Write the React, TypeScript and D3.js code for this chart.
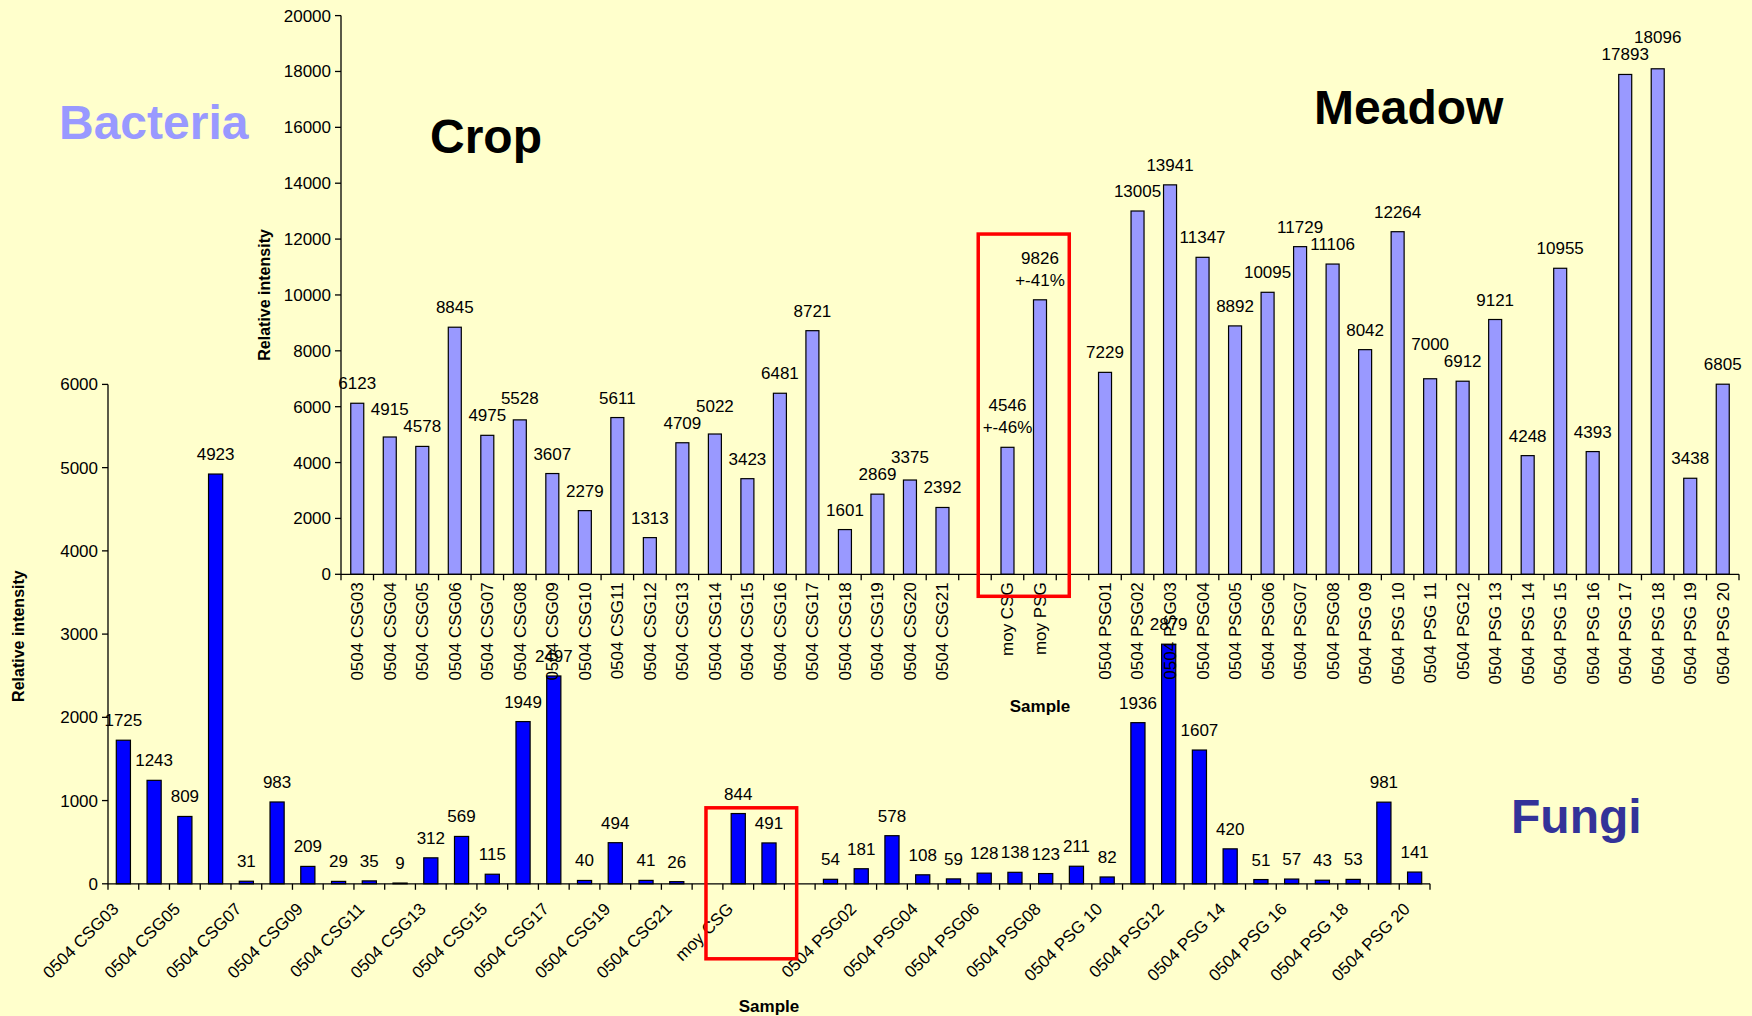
import React from 'react';
import * as d3 from 'd3';

const categories: string[] = [
  '0504 CSG03', '0504 CSG04', '0504 CSG05', '0504 CSG06', '0504 CSG07', '0504 CSG08', '0504 CSG09',
  '0504 CSG10', '0504 CSG11', '0504 CSG12', '0504 CSG13', '0504 CSG14', '0504 CSG15', '0504 CSG16',
  '0504 CSG17', '0504 CSG18', '0504 CSG19', '0504 CSG20', '0504 CSG21', '',
  'moy CSG', 'moy PSG', '',
  '0504 PSG01', '0504 PSG02', '0504 PSG03', '0504 PSG04', '0504 PSG05', '0504 PSG06', '0504 PSG07',
  '0504 PSG08', '0504 PSG 09', '0504 PSG 10', '0504 PSG 11', '0504 PSG12', '0504 PSG 13', '0504 PSG 14',
  '0504 PSG 15', '0504 PSG 16', '0504 PSG 17', '0504 PSG 18', '0504 PSG 19', '0504 PSG 20',
];

const bacteriaValues: (number | null)[] = [
  6123, 4915, 4578, 8845, 4975, 5528, 3607, 2279, 5611, 1313, 4709, 5022, 3423, 6481, 8721, 1601, 2869, 3375, 2392, null,
  4546, 9826, null,
  7229, 13005, 13941, 11347, 8892, 10095, 11729, 11106, 8042, 12264, 7000, 6912, 9121, 4248, 10955, 4393, 17893, 18096, 3438, 6805,
];

const bacteriaSpread: (string | null)[] = categories.map((c) =>
  c === 'moy CSG' ? '+-46%' : c === 'moy PSG' ? '+-41%' : null
);

const fungiValues: (number | null)[] = [
  1725, 1243, 809, 4923, 31, 983, 209, 29, 35, 9, 312, 569, 115, 1949, 2497, 40, 494, 41, 26, null,
  844, 491, null,
  54, 181, 578, 108, 59, 128, 138, 123, 211, 82, 1936, 2879, 1607, 420, 51, 57, 43, 53, 981, 141,
];

const bacteriaTicks = [0, 2000, 4000, 6000, 8000, 10000, 12000, 14000, 16000, 18000, 20000];
const fungiTicks = [0, 1000, 2000, 3000, 4000, 5000, 6000];

const W = 1752;
const H = 1016;
const FONT = "'Liberation Sans', Arial, Helvetica, sans-serif";
const FS = 17;

// Baseline y of each value label: just above its bar; when two neighbouring labels
// would collide, the one on the taller bar is lifted one line higher.
function labelYs(values: (number | null)[], y: (v: number) => number, step: number, multi: (string | null)[] | null) {
  const ys: (number | null)[] = values.map((v) => (v == null ? null : y(v) - 14));
  for (let i = 1; i < values.length; i++) {
    const a = values[i - 1];
    const b = values[i];
    if (a == null || b == null) continue;
    if (multi && (multi[i] || multi[i - 1])) continue;
    const wa = String(a).length * 0.556 * FS - 2;
    const wb = String(b).length * 0.556 * FS - 2;
    const hOverlap = (wa + wb) / 2 - step;
    if (hOverlap <= 2) continue;
    const ya = ys[i - 1] as number;
    const yb = ys[i] as number;
    if (Math.abs(ya - yb) >= FS) continue;
    if (b >= a) ys[i] = Math.min(yb, ya - FS);
    else ys[i - 1] = Math.min(ya, yb - FS);
  }
  return ys;
}

export default function App() {
  const idx = categories.map((_, i) => i);
  const n = categories.length;

  // ---------- Bacteria (top) ----------
  const bPad = 0.6;
  const bx = d3.scaleBand<number>().domain(idx).range([341, 1739]).paddingInner(bPad).paddingOuter(bPad / 2);
  const bStep = bx.step();
  const bStart = (i: number) => (bx(i) as number) - (bStep * bPad) / 2;
  const bCenter = (i: number) => (bx(i) as number) + bx.bandwidth() / 2;
  const by = d3.scaleLinear().domain([0, 20000]).range([574.3, 15.6]);
  const bLabelY = labelYs(bacteriaValues, by, bStep, bacteriaSpread);

  // ---------- Fungi (bottom) ----------
  const fPad = 0.54;
  const fx = d3.scaleBand<number>().domain(idx).range([108, 1430]).paddingInner(fPad).paddingOuter(fPad / 2);
  const fStep = fx.step();
  const fStart = (i: number) => (fx(i) as number) - (fStep * fPad) / 2;
  const fCenter = (i: number) => (fx(i) as number) + fx.bandwidth() / 2;
  const fy = d3.scaleLinear().domain([0, 6000]).range([883.8, 384.4]);
  const fLabelY = labelYs(fungiValues, fy, fStep, null);

  const iCSG = categories.indexOf('moy CSG');
  const iPSG = categories.indexOf('moy PSG');

  return (
    <svg
      width={W}
      height={H}
      viewBox={`0 0 ${W} ${H}`}
      style={{ position: 'absolute', left: 0, top: 0, display: 'block' }}
      fontFamily={FONT}
    >
      <rect x={0} y={0} width={W} height={H} fill="#FFFFCC" />

      {/* ================= FUNGI ================= */}
      <g>
        {fungiValues.map((v, i) =>
          v == null ? null : (
            <rect
              key={'fb' + i}
              x={fx(i)}
              y={fy(v)}
              width={fx.bandwidth()}
              height={fy(0) - fy(v)}
              fill="#0000FF"
              stroke="#000"
              strokeWidth={1.2}
            />
          )
        )}
        <line x1={fx.range()[0]} x2={fx.range()[0]} y1={fy(0)} y2={fy(6000)} stroke="#000" strokeWidth={1.3} />
        {fungiTicks.map((t) => (
          <g key={'fyt' + t}>
            <line x1={fx.range()[0] - 6} x2={fx.range()[0]} y1={fy(t)} y2={fy(t)} stroke="#000" strokeWidth={1.3} />
            <text x={fx.range()[0] - 10} y={fy(t)} dy="0.35em" textAnchor="end" fontSize={FS} fill="#000">
              {t}
            </text>
          </g>
        ))}
        <line x1={fx.range()[0]} x2={fx.range()[1]} y1={fy(0)} y2={fy(0)} stroke="#000" strokeWidth={1.3} />
        {d3.range(n + 1).map((k) => {
          const x = k < n ? fStart(k) : fStart(n - 1) + fStep;
          return <line key={'fxt' + k} x1={x} x2={x} y1={fy(0)} y2={fy(0) + 6} stroke="#000" strokeWidth={1.3} />;
        })}
        {categories.map((c, i) =>
          i % 2 === 0 && c ? (
            <text
              key={'fxl' + i}
              transform={`translate(${fCenter(i) - 8},${fy(0) + 22}) rotate(-45)`}
              dy="0.35em"
              textAnchor="end"
              fontSize={FS}
              fill="#000"
            >
              {c}
            </text>
          ) : null
        )}
        {fungiValues.map((v, i) =>
          v == null ? null : (
            <text key={'fvl' + i} x={fCenter(i)} y={fLabelY[i] as number} textAnchor="middle" fontSize={FS} fill="#000">
              {v}
            </text>
          )
        )}
        <text
          transform={`translate(18,${(fy(0) + fy(6000)) / 2 + 2}) rotate(-90)`}
          dy="0.35em"
          textAnchor="middle"
          fontSize={16}
          fontWeight="bold"
          fill="#000"
        >
          Relative intensity
        </text>
        <text x={769} y={1006} dy="0.35em" textAnchor="middle" fontSize={FS} fontWeight="bold" fill="#000">
          Sample
        </text>
        <rect
          x={fStart(iCSG) - 0.55 * fStep}
          y={fy(913)}
          width={fStart(iPSG) + fStep * 1.4 - (fStart(iCSG) - 0.55 * fStep)}
          height={fy(0) + 75 - fy(913)}
          fill="none"
          stroke="#FF0000"
          strokeWidth={3.5}
        />
      </g>

      {/* ================= BACTERIA ================= */}
      <g>
        {bacteriaValues.map((v, i) =>
          v == null ? null : (
            <rect
              key={'bb' + i}
              x={bx(i)}
              y={by(v)}
              width={bx.bandwidth()}
              height={by(0) - by(v)}
              fill="#9999FF"
              stroke="#000"
              strokeWidth={1.2}
            />
          )
        )}
        <line x1={bx.range()[0]} x2={bx.range()[0]} y1={by(0)} y2={by(20000)} stroke="#000" strokeWidth={1.3} />
        {bacteriaTicks.map((t) => (
          <g key={'byt' + t}>
            <line x1={bx.range()[0] - 6} x2={bx.range()[0]} y1={by(t)} y2={by(t)} stroke="#000" strokeWidth={1.3} />
            <text x={bx.range()[0] - 10} y={by(t)} dy="0.35em" textAnchor="end" fontSize={FS} fill="#000">
              {t}
            </text>
          </g>
        ))}
        <line x1={bx.range()[0]} x2={bx.range()[1]} y1={by(0)} y2={by(0)} stroke="#000" strokeWidth={1.3} />
        {d3.range(n + 1).map((k) => {
          const x = k < n ? bStart(k) : bStart(n - 1) + bStep;
          return <line key={'bxt' + k} x1={x} x2={x} y1={by(0)} y2={by(0) + 6} stroke="#000" strokeWidth={1.3} />;
        })}
        {categories.map((c, i) =>
          c ? (
            <text
              key={'bxl' + i}
              transform={`translate(${bCenter(i)},${by(0) + 8}) rotate(-90)`}
              dy="0.35em"
              textAnchor="end"
              fontSize={FS}
              fill="#000"
            >
              {c}
            </text>
          ) : null
        )}
        {bacteriaValues.map((v, i) =>
          v == null ? null : bacteriaSpread[i] ? (
            <g key={'bvl' + i}>
              <text x={bCenter(i)} y={by(v) - 36} textAnchor="middle" fontSize={FS} fill="#000">
                {v}
              </text>
              <text x={bCenter(i)} y={by(v) - 14} textAnchor="middle" fontSize={FS} fill="#000">
                {bacteriaSpread[i]}
              </text>
            </g>
          ) : (
            <text key={'bvl' + i} x={bCenter(i)} y={bLabelY[i] as number} textAnchor="middle" fontSize={FS} fill="#000">
              {v}
            </text>
          )
        )}
        <text
          transform={`translate(264,${(by(0) + by(20000)) / 2}) rotate(-90)`}
          dy="0.35em"
          textAnchor="middle"
          fontSize={16}
          fontWeight="bold"
          fill="#000"
        >
          Relative intensity
        </text>
        <text x={1040} y={706} dy="0.35em" textAnchor="middle" fontSize={FS} fontWeight="bold" fill="#000">
          Sample
        </text>
        <rect
          x={bStart(iCSG) - 0.4 * bStep}
          y={by(12180)}
          width={bStart(iPSG) + bStep * 1.4 - (bStart(iCSG) - 0.4 * bStep)}
          height={by(0) + 22 - by(12180)}
          fill="none"
          stroke="#FF0000"
          strokeWidth={3.5}
        />
      </g>

      {/* ================= TITLES ================= */}
      <text x={59} y={139} fontSize={48} fontWeight="bold" fill="#9999FF">
        Bacteria
      </text>
      <text x={430} y={153} fontSize={48} fontWeight="bold" fill="#000">
        Crop
      </text>
      <text x={1314} y={124} fontSize={48} fontWeight="bold" fill="#000">
        Meadow
      </text>
      <text x={1511} y={833} fontSize={48} fontWeight="bold" fill="#333399">
        Fungi
      </text>
    </svg>
  );
}
